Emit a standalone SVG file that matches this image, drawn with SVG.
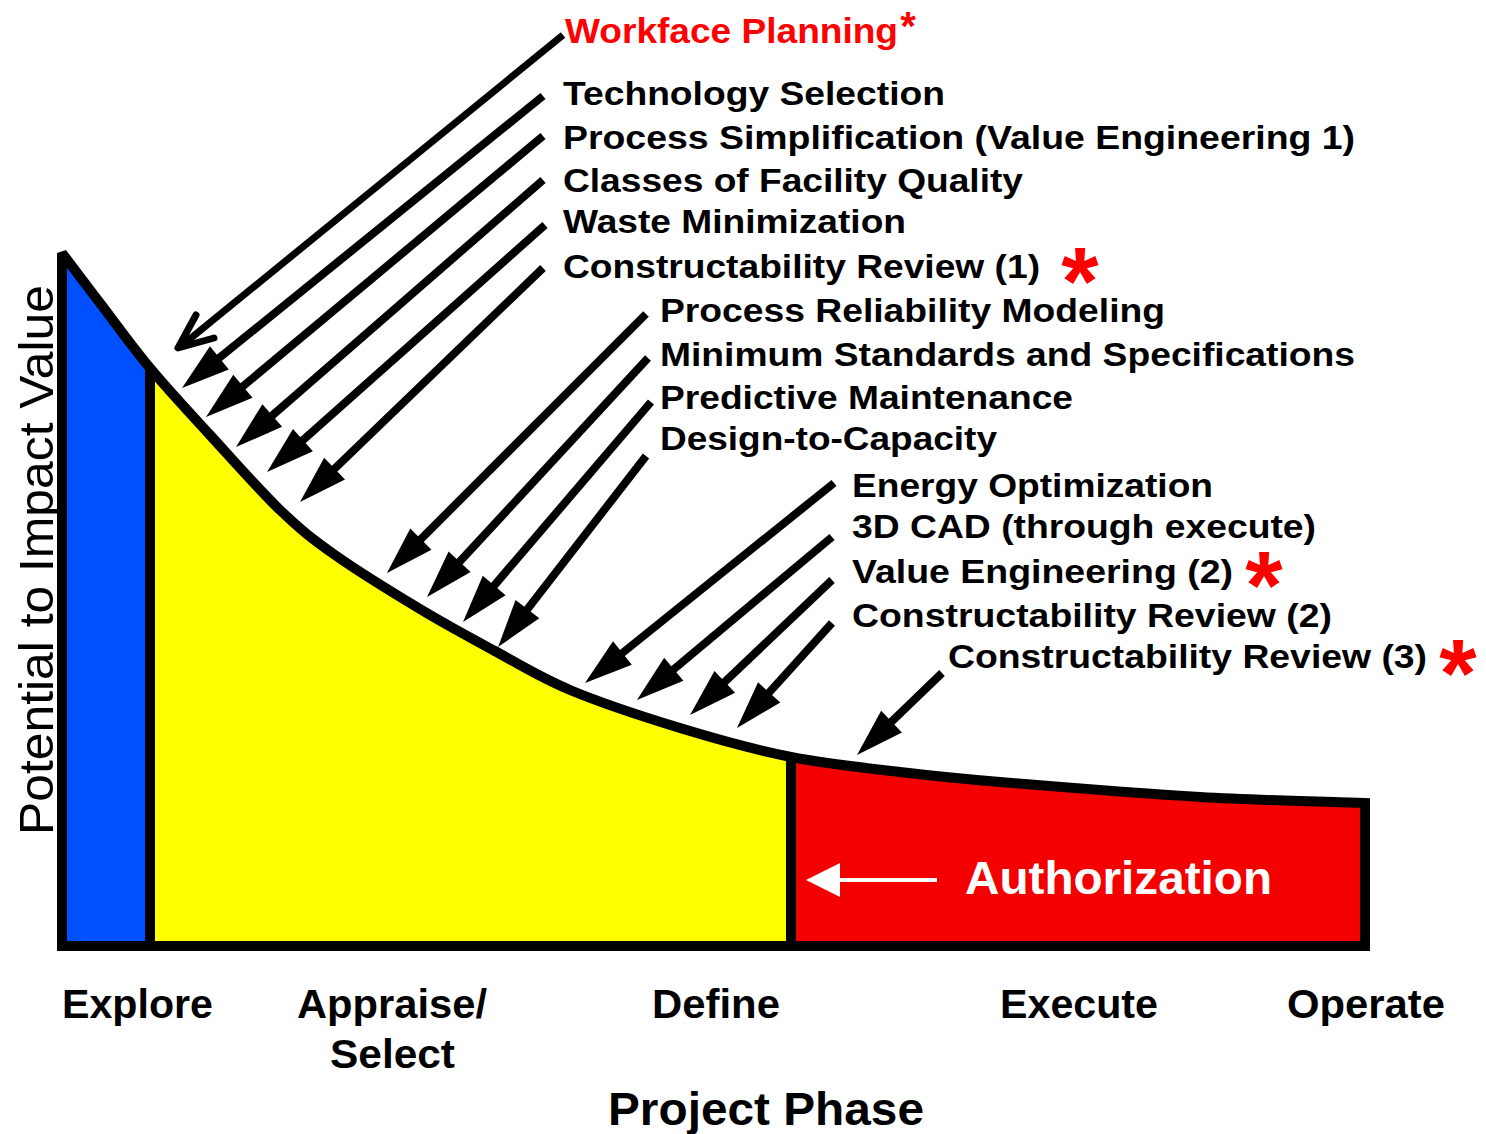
<svg xmlns="http://www.w3.org/2000/svg" width="1486" height="1134" viewBox="0 0 1486 1134">
<style>
.lbl{font-family:"Liberation Sans",Arial,sans-serif;font-weight:bold;font-size:34px;fill:#000}
.ph{font-family:"Liberation Sans",Arial,sans-serif;font-weight:bold;font-size:40px;fill:#000}
.star{font-family:"Liberation Sans",Arial,sans-serif;font-weight:bold;font-size:96px;fill:#ff0000;text-anchor:middle}
.arr{stroke:#000;stroke-width:8;fill:none;marker-end:url(#ah)}
.edge{stroke:#000;stroke-width:10;fill:none}
</style>
<defs>
<marker id="ah" markerUnits="userSpaceOnUse" viewBox="-30 -17 52 34" markerWidth="52" markerHeight="34" refX="0" refY="0" orient="auto"><path d="M20,0 L-28,-15 L-28,15 Z" fill="#000"/></marker>
</defs>
<rect width="1486" height="1134" fill="#fff"/>
<g id="chart">
<g id="explore-region"><path fill="#0050ff" d="M62,946 L62,253 C68.3,261.3 85.3,283.8 100,303 C114.7,322.2 131.7,346 150,368 L150,946 Z"/></g>
<g id="appraise-define-region"><path fill="#ffff00" d="M150,946 L150,368 C168.3,390 188.3,411.3 210,435 C231.7,458.7 259.2,490 280,510 C300.8,530 311.7,538.5 335,555 C358.3,571.5 393.7,593.2 420,609 C446.3,624.8 468,636.5 493,650 C518,663.5 538.8,677 570,690 C601.2,703 643.2,716.8 680,728 C716.8,739.2 754.3,749.7 791,757 L791,946 Z"/></g>
<g id="execute-operate-region"><path fill="#f50000" d="M791,946 L791,757 C827.7,764.3 865.2,767.8 900,772 C934.8,776.2 950,777.8 1000,782 C1050,786.2 1139.2,793.5 1200,797 C1260.8,800.5 1337.5,802 1365,803 L1365,946 Z"/></g>
<path class="edge" stroke-linejoin="miter" stroke-miterlimit="2" d="M62,946 L62,253 C68.3,261.3 85.3,283.8 100,303 C114.7,322.2 131.7,346 150,368 C168.3,390 188.3,411.3 210,435 C231.7,458.7 259.2,490 280,510 C300.8,530 311.7,538.5 335,555 C358.3,571.5 393.7,593.2 420,609 C446.3,624.8 468,636.5 493,650 C518,663.5 538.8,677 570,690 C601.2,703 643.2,716.8 680,728 C716.8,739.2 754.3,749.7 791,757 C827.7,764.3 865.2,767.8 900,772 C934.8,776.2 950,777.8 1000,782 C1050,786.2 1139.2,793.5 1200,797 C1260.8,800.5 1337.5,802 1365,803 L1365,946 Z"/>
<line class="edge" x1="150" y1="368" x2="150" y2="946"/>
<line class="edge" x1="791" y1="757" x2="791" y2="946"/>
</g>
<g id="authorization">
<line x1="836" y1="880" x2="937" y2="880" stroke="#fff" stroke-width="4"/>
<path d="M806,880 L840,863 L840,897 Z" fill="#fff"/>
<text x="965" y="894" font-family="Liberation Sans, Arial, sans-serif" font-weight="bold" font-size="46" fill="#fff" textLength="307" lengthAdjust="spacingAndGlyphs">Authorization</text>
</g>
<g id="connectors">
<line x1="563" y1="35" x2="180" y2="347" stroke="#000" stroke-width="7"/>
<polyline points="196,315 178,348 214,338" fill="none" stroke="#000" stroke-width="7" stroke-linecap="round" stroke-linejoin="round"/>
<line class="arr" x1="543" y1="96" x2="197.6" y2="375.4"/>
<line class="arr" x1="543" y1="136" x2="221.4" y2="404.2"/>
<line class="arr" x1="543" y1="180" x2="251.1" y2="433.9"/>
<line class="arr" x1="545" y1="225" x2="282" y2="458.7"/>
<line class="arr" x1="543" y1="268" x2="314.4" y2="488.1"/>
<line class="arr" x1="646" y1="314" x2="401.1" y2="558.9"/>
<line class="arr" x1="648" y1="358" x2="440.6" y2="582.3"/>
<line class="arr" x1="651" y1="402" x2="476" y2="606.8"/>
<line class="arr" x1="646" y1="456" x2="510.3" y2="631.2"/>
<line class="arr" x1="834" y1="483" x2="600.6" y2="670.5"/>
<line class="arr" x1="832" y1="537" x2="652.3" y2="687.2"/>
<line class="arr" x1="832" y1="580" x2="704.5" y2="701.2"/>
<line class="arr" x1="832" y1="623" x2="750.4" y2="713.2"/>
<line class="arr" x1="942" y1="673" x2="871.4" y2="741.1"/>
</g>
<g id="labels">
<text x="565" y="43" class="lbl" style="fill:#ff0000;font-size:35px" textLength="333" lengthAdjust="spacingAndGlyphs">Workface Planning</text>
<text x="908" y="40" class="lbl" style="fill:#ff0000;font-size:40px" text-anchor="middle">*</text>
<text x="563" y="105" class="lbl" textLength="382" lengthAdjust="spacingAndGlyphs">Technology Selection</text>
<text x="563" y="149" class="lbl" textLength="792" lengthAdjust="spacingAndGlyphs">Process Simplification (Value Engineering 1)</text>
<text x="563" y="192" class="lbl" textLength="460" lengthAdjust="spacingAndGlyphs">Classes of Facility Quality</text>
<text x="563" y="233" class="lbl" textLength="343" lengthAdjust="spacingAndGlyphs">Waste Minimization</text>
<text x="563" y="278" class="lbl" textLength="477" lengthAdjust="spacingAndGlyphs">Constructability Review (1)</text>
<text x="1080" y="314" class="star">*</text>
<text x="660" y="322" class="lbl" textLength="505" lengthAdjust="spacingAndGlyphs">Process Reliability Modeling</text>
<text x="660" y="366" class="lbl" textLength="695" lengthAdjust="spacingAndGlyphs">Minimum Standards and Specifications</text>
<text x="660" y="409" class="lbl" textLength="413" lengthAdjust="spacingAndGlyphs">Predictive Maintenance</text>
<text x="660" y="450" class="lbl" textLength="337" lengthAdjust="spacingAndGlyphs">Design-to-Capacity</text>
<text x="852" y="497" class="lbl" textLength="361" lengthAdjust="spacingAndGlyphs">Energy Optimization</text>
<text x="852" y="538" class="lbl" textLength="464" lengthAdjust="spacingAndGlyphs">3D CAD (through execute)</text>
<text x="852" y="583" class="lbl" textLength="381" lengthAdjust="spacingAndGlyphs">Value Engineering (2)</text>
<text x="1264" y="618" class="star">*</text>
<text x="852" y="627" class="lbl" textLength="480" lengthAdjust="spacingAndGlyphs">Constructability Review (2)</text>
<text x="948" y="668" class="lbl" textLength="479" lengthAdjust="spacingAndGlyphs">Constructability Review (3)</text>
<text x="1458" y="706" class="star">*</text>
</g>
<g id="axis-labels">
<text transform="translate(53,835) rotate(-90)" font-family="Liberation Sans, Arial, sans-serif" font-size="49" fill="#000" textLength="550" lengthAdjust="spacingAndGlyphs">Potential to Impact Value</text>
<text x="62" y="1018" class="ph" textLength="151" lengthAdjust="spacingAndGlyphs">Explore</text>
<text x="297" y="1018" class="ph" textLength="190" lengthAdjust="spacingAndGlyphs">Appraise/</text>
<text x="330" y="1068" class="ph" textLength="125" lengthAdjust="spacingAndGlyphs">Select</text>
<text x="652" y="1018" class="ph" textLength="128" lengthAdjust="spacingAndGlyphs">Define</text>
<text x="1000" y="1018" class="ph" textLength="158" lengthAdjust="spacingAndGlyphs">Execute</text>
<text x="1287" y="1018" class="ph" textLength="158" lengthAdjust="spacingAndGlyphs">Operate</text>
<text x="608" y="1125" class="ph" style="font-size:46px" textLength="316" lengthAdjust="spacingAndGlyphs">Project Phase</text>
</g>
</svg>
